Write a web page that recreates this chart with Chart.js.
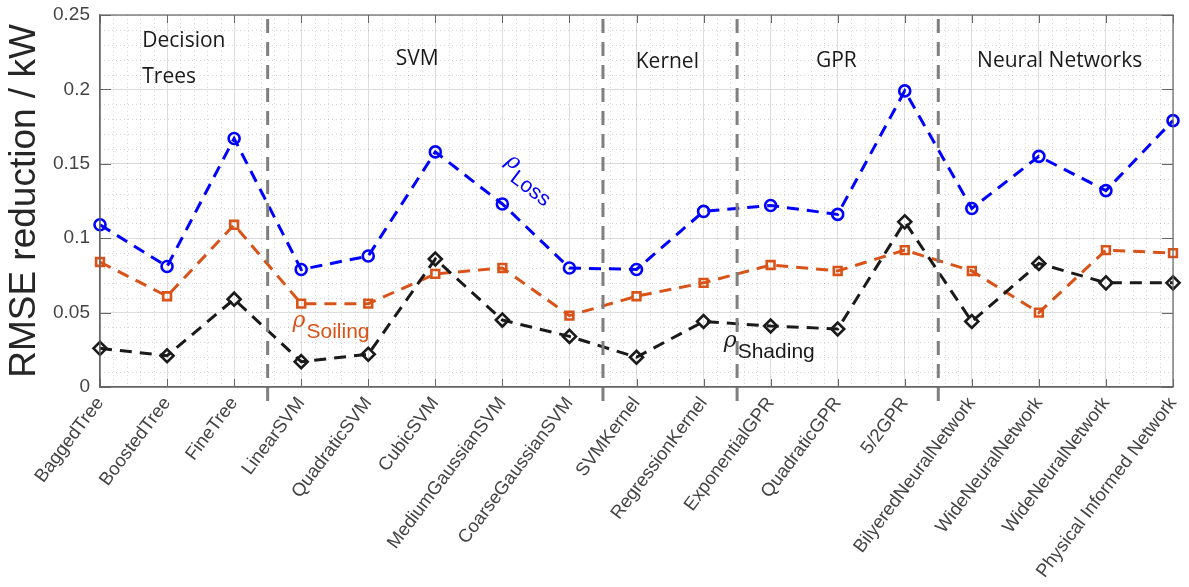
<!DOCTYPE html>
<html>
<head>
<meta charset="utf-8">
<script src="https://cdn.jsdelivr.net/npm/chart.js@4.4.1/dist/chart.umd.min.js"></script>
<style>
  html, body { margin: 0; padding: 0; background: #fff; }
  #wrap { width: 1189px; height: 587px; }
</style>
</head>
<body>
<div id="wrap"><canvas id="rmseChart" width="1189" height="587"></canvas></div>
<script>
/* --- 1. DATA --- */
const modelNames = [
    'BaggedTree', 'BoostedTree', 'FineTree',
    'LinearSVM', 'QuadraticSVM', 'CubicSVM', 'MediumGaussianSVM', 'CoarseGaussianSVM',
    'SVMKernel', 'RegressionKernel',
    'ExponentialGPR', 'QuadraticGPR', '5/2GPR',
    'BilyeredNeuralNetwork', 'WideNeuralNetwork', 'WideNeuralNetwork', 'Physical Informed Network'
];

const lossValues     = [0.109, 0.081, 0.167, 0.079, 0.088, 0.158, 0.123, 0.080, 0.079, 0.118, 0.122, 0.116, 0.199, 0.120, 0.155, 0.132, 0.179];
const soilingValues  = [0.084, 0.061, 0.109, 0.056, 0.056, 0.076, 0.080, 0.048, 0.061, 0.070, 0.082, 0.078, 0.092, 0.078, 0.050, 0.092, 0.090];
const shadingValues  = [0.026, 0.021, 0.059, 0.017, 0.022, 0.086, 0.045, 0.034, 0.020, 0.044, 0.041, 0.039, 0.111, 0.044, 0.083, 0.070, 0.070];

const yTickValues = [0, 0.05, 0.1, 0.15, 0.2, 0.25];
const yTickLabels = ['0', '0.05', '0.1', '0.15', '0.2', '0.25'];

// model family boundaries (between category indices)
const groupBreaks = [2.5, 7.5, 9.5, 12.5];

/* --- 2. ANNOTATION LAYOUT (data coords) --- */
const groupTexts = [
    { lines: ['Decision', 'Trees'], x: 0.63, y: 0.2285, align: 'left' },
    { lines: ['SVM'], x: 4.73, y: 0.2165, align: 'center' },
    { lines: ['Kernel'], x: 8.46, y: 0.2145, align: 'center' },
    { lines: ['GPR'], x: 10.98, y: 0.2150, align: 'center' },
    { lines: ['Neural Networks'], x: 14.31, y: 0.2150, align: 'center' }
];

const rhoTexts = [
    { sub: 'Loss', x: 6.03, y: 0.1505, color: '#0000ff', angle: 37 },
    { sub: 'Soiling', x: 2.87, y: 0.0404, color: '#d95319', angle: 0 },
    { sub: 'Shading', x: 9.30, y: 0.0270, color: '#1a1a1a', angle: 0 }
];

/* --- 3. DRAWING HELPERS --- */
function strokeLine(ctx, x1, y1, x2, y2) {
    ctx.beginPath();
    ctx.moveTo(x1, y1);
    ctx.lineTo(x2, y2);
    ctx.stroke();
}

const matlabAxesPlugin = {
    id: 'matlabAxes',
    beforeDatasetsDraw(chart) {
        const { ctx, chartArea: a, scales: { x, y } } = chart;
        ctx.save();
        ctx.strokeStyle = 'rgba(0,0,0,0.16)';
        ctx.lineWidth = 1;
        ctx.setLineDash([1, 3]);
        // minor verticals
        for (let i = 0; i < modelNames.length - 1; i++) {
            for (let k = 1; k < 5; k++) {
                const px = Math.round(x.getPixelForValue(i + k / 5)) + 0.5;
                strokeLine(ctx, px, a.top, px, a.bottom);
            }
        }
        // minor horizontals
        for (let k = 1; k < 25; k++) {
            if (k % 5 === 0) continue;
            const py = Math.round(y.getPixelForValue(k / 100)) + 0.5;
            strokeLine(ctx, a.left, py, a.right, py);
        }
        ctx.restore();
    },
    afterDatasetsDraw(chart) {
        const { ctx, chartArea: a, scales: { x, y } } = chart;
        ctx.save();

        // family separators
        ctx.strokeStyle = '#7f7f7f';
        ctx.lineWidth = 3;
        ctx.setLineDash([14, 9]);
        groupBreaks.forEach(b => {
            const px = x.getPixelForValue(b);
            strokeLine(ctx, px, a.top + 4, px, a.bottom + 18);
        });
        ctx.setLineDash([]);

        // box + inward ticks
        ctx.strokeStyle = '#666';
        ctx.lineWidth = 1.2;
        ctx.strokeRect(a.left, a.top, a.right - a.left, a.bottom - a.top);
        ctx.lineWidth = 1;
        modelNames.forEach((_, i) => {
            const px = Math.round(x.getPixelForValue(i)) + 0.5;
            strokeLine(ctx, px, a.bottom, px, a.bottom - 8);
            strokeLine(ctx, px, a.top, px, a.top + 8);
        });
        yTickValues.forEach(v => {
            const py = Math.round(y.getPixelForValue(v)) + 0.5;
            strokeLine(ctx, a.left, py, a.left + 11, py);
            strokeLine(ctx, a.right, py, a.right - 11, py);
        });

        // family names
        ctx.fillStyle = '#1a1a1a';
        ctx.font = '21px "Open Sans"';
        ctx.textBaseline = 'alphabetic';
        groupTexts.forEach(g => {
            ctx.textAlign = g.align;
            const px = x.getPixelForValue(g.x);
            const py = y.getPixelForValue(g.y);
            g.lines.forEach((line, j) => ctx.fillText(line, px, py + j * 36));
        });

        // rho labels
        rhoTexts.forEach(r => {
            ctx.save();
            ctx.translate(x.getPixelForValue(r.x), y.getPixelForValue(r.y));
            ctx.rotate(r.angle * Math.PI / 180);
            ctx.fillStyle = r.color;
            ctx.textAlign = 'left';
            ctx.font = 'italic 22px "DejaVu Serif"';
            ctx.fillText('\u03c1', 0, 0);
            ctx.font = '21px "Liberation Sans"';
            ctx.fillText(r.sub, 14, 11);
            ctx.restore();
        });

        ctx.restore();
    }
};

/* --- 4. CHART --- */
function makeSeries(label, data, color, marker) {
    return {
        label: label,
        data: data,
        borderColor: color,
        backgroundColor: 'rgba(0,0,0,0)',
        borderWidth: 3,
        borderDash: [12, 8],
        tension: 0,
        pointStyle: marker,
        pointRadius: marker === 'rectRot' ? 6.5 : 5.5,
        pointBorderWidth: 2.6,
        pointBorderColor: color,
        pointBackgroundColor: 'rgba(0,0,0,0)'
    };
}

function initChart() {
    const ctx = document.getElementById('rmseChart').getContext('2d');
    new Chart(ctx, {
        type: 'line',
        data: {
            labels: modelNames,
            datasets: [
                makeSeries('Shading', shadingValues, '#1a1a1a', 'rectRot'),
                makeSeries('Soiling', soilingValues, '#d95319', 'rect'),
                makeSeries('Loss', lossValues, '#0000ff', 'circle')
            ]
        },
        options: {
            responsive: false,
            animation: false,
            devicePixelRatio: 1,
            layout: { padding: { top: 15, right: 16, left: 0, bottom: 0 } },
            plugins: {
                legend: { display: false },
                tooltip: { enabled: false }
            },
            scales: {
                x: {
                    type: 'category',
                    offset: false,
                    grid: { color: '#dcdcdc', lineWidth: 1, drawTicks: false },
                    border: { color: '#666', width: 1.2 },
                    ticks: {
                        autoSkip: false,
                        maxRotation: 53,
                        minRotation: 53,
                        padding: 6,
                        color: '#444',
                        font: { family: '"Liberation Sans", Arial', size: 18.5 }
                    },
                    afterFit(scale) {
                        scale.height = 200;
                        scale.paddingLeft = 0;
                        scale.paddingRight = 0;
                    }
                },
                y: {
                    min: 0,
                    max: 0.25,
                    afterBuildTicks(scale) {
                        scale.ticks = yTickValues.map(v => ({ value: v }));
                    },
                    grid: { color: '#dcdcdc', lineWidth: 1, drawTicks: false },
                    border: { color: '#666', width: 1.2 },
                    ticks: {
                        padding: 10,
                        color: '#444',
                        font: { family: '"Liberation Sans", Arial', size: 19 },
                        callback: (v) => {
                            const i = yTickValues.findIndex(t => Math.abs(t - v) < 1e-9);
                            return i >= 0 ? yTickLabels[i] : '';
                        }
                    },
                    title: {
                        display: true,
                        text: 'RMSE reduction / kW',
                        color: '#262626',
                        font: { family: '"Liberation Sans", Arial', size: 37 },
                        padding: { top: 3, bottom: 0 }
                    },
                    afterFit(scale) {
                        scale.width = 100;
                        scale.paddingTop = 0;
                        scale.paddingBottom = 0;
                    }
                }
            }
        },
        plugins: [matlabAxesPlugin]
    });
}

document.addEventListener('DOMContentLoaded', initChart);
</script>
</body>
</html>
